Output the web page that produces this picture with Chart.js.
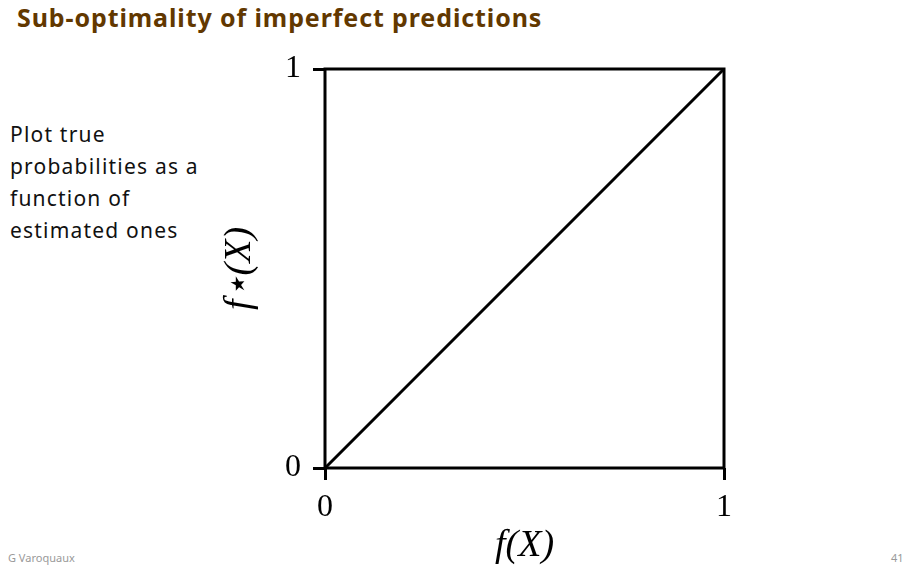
<!DOCTYPE html>
<html>
<head>
<meta charset="utf-8">
<script src="https://cdn.jsdelivr.net/npm/chart.js@4"></script>
<style>
  body{margin:0;background:#fff;width:907px;height:567px;overflow:hidden;position:relative;font-family:"Noto Sans",sans-serif;}
  #title{position:absolute;left:17px;top:0px;font-weight:bold;font-size:25px;letter-spacing:0.9px;color:#623800;white-space:nowrap;}
  #side{position:absolute;left:10px;top:118px;font-size:21px;letter-spacing:1.2px;line-height:32px;color:#111;}
  .foot{position:absolute;top:550px;font-size:11px;color:#999;}
  #wrap{position:absolute;left:0;top:0;width:907px;height:567px;}
</style>
</head>
<body>
<div id="title">Sub-optimality of imperfect predictions</div>
<div id="side">Plot true<br>probabilities as a<br>function of<br>estimated ones</div>
<div class="foot" style="left:8px">G Varoquaux</div>
<div class="foot" style="left:891px">41</div>
<div id="wrap"><canvas id="chart"></canvas></div>
<script>
// estimated probability vs true probability (perfect calibration line)
const estimated=[0,1];
const trueProb=[0,1];
const xTicks=[0,1];
const yTicks=[0,1];

const mathFont={family:"'Liberation Serif','DejaVu Serif',serif",size:32};
const labelFont={family:mathFont.family,size:38,style:"italic",lineHeight:1.1};

const frame={
    id:"frame",
    afterDatasetsDraw(chart){
        const a=chart.chartArea, ctx=chart.ctx;
        ctx.save();
        ctx.strokeStyle="#000";
        ctx.lineWidth=3;
        ctx.strokeRect(a.left,a.top,a.right-a.left,a.bottom-a.top);
        ctx.restore();
    }
};

new Chart(document.getElementById("chart"),{
    type:"scatter",
    data:{datasets:[{
        data:estimated.map((x,i)=>({x:x,y:trueProb[i]})),
        showLine:true,
        borderColor:"#000",
        borderWidth:3,
        pointRadius:0
    }]},
    options:{
        responsive:true,
        maintainAspectRatio:false,
        animation:false,
        events:[],
        layout:{padding:{left:0,top:69,right:183,bottom:0}},
        plugins:{legend:{display:false},tooltip:{enabled:false}},
        scales:{
            x:{
                type:"linear",min:0,max:1,
                afterBuildTicks:s=>{s.ticks=xTicks.map(v=>({value:v}));},
                afterFit:s=>{s.height=99;},
                border:{display:false},
                grid:{drawOnChartArea:false,drawTicks:true,tickLength:12,lineWidth:3,color:"#000"},
                ticks:{color:"#000",font:mathFont,padding:8,maxRotation:0},
                title:{display:true,text:"f(X)",color:"#000",font:labelFont,padding:{top:0,bottom:0}}
            },
            y:{
                type:"linear",min:0,max:1,
                afterBuildTicks:s=>{s.ticks=yTicks.map(v=>({value:v}));},
                afterFit:s=>{s.width=325;},
                border:{display:false},
                grid:{drawOnChartArea:false,drawTicks:true,tickLength:12,lineWidth:3,color:"#000"},
                ticks:{color:"#000",font:mathFont,padding:12},
                title:{display:true,text:"f⋆(X)",color:"#000",font:labelFont,padding:{top:219,bottom:0}}
            }
        }
    },
    plugins:[frame]
});
</script>
</body>
</html>
